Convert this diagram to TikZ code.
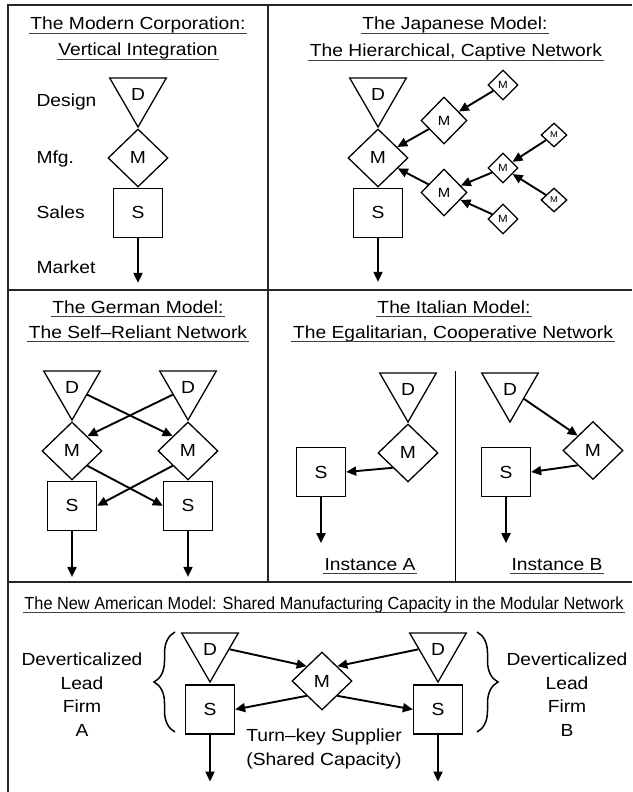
\documentclass[tikz,border=0pt]{standalone}
\usepackage{graphicx}
\usepackage{fontspec}
\setmainfont{Liberation Sans}[FakeStretch=1.1]
\usetikzlibrary{positioning, shapes.geometric, arrows.meta, decorations.pathreplacing}

\begin{document}
\begin{tikzpicture}[
        x=1pt, y=-1pt,
        font=\fontsize{17.5}{23.5}\selectfont,
        shp/.style={draw=black, line width=1.3pt, inner sep=0pt},
        dsgn/.style={shp, regular polygon, regular polygon sides=3, shape border rotate=180, minimum size=65.4pt},
        mfg/.style={shp, diamond, minimum width=60pt, minimum height=58pt},
        sales/.style={shp, rectangle, minimum size=49pt},
        tier1/.style={minimum width=46pt, minimum height=47pt, font=\fontsize{13.5}{16}\selectfont},
        tier2/.style={minimum width=30pt, minimum height=30pt, font=\fontsize{10.5}{12}\selectfont},
        tier3/.style={minimum width=26pt, minimum height=24pt, font=\fontsize{8.5}{10}\selectfont},
        conn/.style={-{Triangle[length=10pt, width=9pt]}, line width=1.9pt},
        ttl/.style={anchor=base, inner xsep=1.5pt, inner ysep=0pt, text depth=3.5pt,
            append after command={(\tikzlastnode.south west) edge[draw, line width=0.8pt, black!75] (\tikzlastnode.south east)}},
        lbl/.style={align=center, inner sep=0pt, anchor=north},
        rule/.style={line width=1.6pt, black!85},
        brc/.style={decorate, decoration={brace, amplitude=21pt}, line width=1.5pt}
    ]
        \useasboundingbox (0,0) rectangle (632,792);

        % frame
        \draw [rule] (8,792) -- (8,5) -- (632,5);
        \draw [rule] (8,290) -- (632,290);
        \draw [rule] (8,582) -- (632,582);
        \draw [rule] (268,5) -- (268,582);
        \draw [line width=1pt] (455,371) -- (455,582);

        % modern corporation
        \node (modT1) [ttl] at (138,30) {The Modern Corporation:};
        \node (modT2) [ttl] at (138,56) {Vertical Integration};
        \node (modD) [dsgn] at (138,94.3) {D};
        \node (modM) [mfg, below=0pt of modD] {M};
        \node (modS) [sales, below=0pt of modM] {S};
        \coordinate [below=45pt of modS] (modK);
        \node (lDes) [anchor=base west] at (33,106) {Design};
        \node (lMfg) [anchor=base west] at (33,163) {Mfg.};
        \node (lSal) [anchor=base west] at (33,218) {Sales};
        \node (lMkt) [anchor=base west] at (33,273) {Market};
        \draw [conn] (modS) -- (modK);

        % japanese model
        \node (jpT1) [ttl] at (455,30) {The Japanese Model:};
        \node (jpT2) [ttl] at (456,56.5) {The Hierarchical, Captive Network};
        \node (jpD) [dsgn] at (378,94.3) {D};
        \node (jpM) [mfg, below=0pt of jpD] {M};
        \node (jpS) [sales, below=0pt of jpM] {S};
        \coordinate [below=44pt of jpS] (jpK);
        \node (jpMa) [mfg, tier1] at (444,120.5) {M};
        \node (jpMb) [mfg, tier1] at (444,192.5) {M};
        \node (jpMc) [mfg, tier2] at (503,85) {M};
        \node (jpMd) [mfg, tier2] at (503,168) {M};
        \node (jpMe) [mfg, tier2] at (503,219) {M};
        \node (jpMf) [mfg, tier3] at (554,135) {M};
        \node (jpMg) [mfg, tier3] at (554,200) {M};
        \draw [conn] (jpS) -- (jpK);
        \draw [conn] (jpMa) -- (jpM);
        \draw [conn] (jpMb) -- (jpM);
        \draw [conn] (jpMc) -- (jpMa);
        \draw [conn] (jpMd) -- (jpMb);
        \draw [conn] (jpMe) -- (jpMb);
        \draw [conn] (jpMf) -- (jpMd);
        \draw [conn] (jpMg) -- (jpMd);

        % german model
        \node (deT1) [ttl] at (138,313) {The German Model:};
        \node (deT2) [ttl] at (138,338) {The Self–Reliant Network};
        \node (deD1) [dsgn] at (72,387.3) {D};
        \node (deM1) [mfg, below=0pt of deD1] {M};
        \node (deS1) [sales, below=0pt of deM1] {S};
        \coordinate [below=46pt of deS1] (deK1);
        \node (deD2) [dsgn] at (188,387.3) {D};
        \node (deM2) [mfg, below=0pt of deD2] {M};
        \node (deS2) [sales, below=0pt of deM2] {S};
        \coordinate [below=46pt of deS2] (deK2);
        \draw [conn] (deD1) -- (deM2.north west);
        \draw [conn] (deD2) -- (deM1.north east);
        \draw [conn] (deM1.south east) -- (deS2.west);
        \draw [conn] (deM2.south west) -- (deS1.east);
        \draw [conn] (deS1) -- (deK1);
        \draw [conn] (deS2) -- (deK2);

        % italian model
        \node (itT1) [ttl] at (454,313) {The Italian Model:};
        \node (itT2) [ttl] at (453,338) {The Egalitarian, Cooperative Network};
        \node (itD1) [dsgn] at (408,389.3) {D};
        \node (itM1) [mfg, below=0pt of itD1] {M};
        \node (itS1) [sales] at (321,472) {S};
        \coordinate [below=46pt of itS1] (itK1);
        \node (itD2) [dsgn] at (510,389.3) {D};
        \node (itM2) [mfg] at (593,450.5) {M};
        \node (itS2) [sales] at (506,472) {S};
        \coordinate [below=46pt of itS2] (itK2);
        \draw [conn] (itM1.south west) -- (itS1.east);
        \draw [conn] (itD2) -- (itM2.north west);
        \draw [conn] (itM2.south west) -- (itS2.east);
        \draw [conn] (itS1) -- (itK1);
        \draw [conn] (itS2) -- (itK2);
        \node (insA) [ttl] at (370,570) {Instance A};
        \node (insB) [ttl] at (557,570) {Instance B};

        % new american model
        \node (usT) [ttl] at (324,609) {\resizebox{599pt}{\height}{The New American Model: Shared Manufacturing Capacity in the Modular Network}};
        \node (usD1) [dsgn] at (210,649.3) {D};
        \node (usS1) [sales, below=1pt of usD1] {S};
        \coordinate [below=47pt of usS1] (usK1);
        \node (usD2) [dsgn] at (438,649.3) {D};
        \node (usS2) [sales, below=1pt of usD2] {S};
        \coordinate [below=47pt of usS2] (usK2);
        \node (usM) [mfg] at (322,681) {M};
        \draw [conn] (usD1.east) -- (usM.north west);
        \draw [conn] (usD2.west) -- (usM.north east);
        \draw [conn] (usM.south west) -- (usS1.east);
        \draw [conn] (usM.south east) -- (usS2.west);
        \draw [conn] (usS1) -- (usK1);
        \draw [conn] (usS2) -- (usK2);
        \draw [brc] (175,732) -- (175,632);
        \draw [brc] (477,632) -- (477,732);
        \node (firmA) [lbl] at (82,653) {Deverticalized\\Lead\\Firm\\A};
        \node (firmB) [lbl] at (567,653) {Deverticalized\\Lead\\Firm\\B};
        \node (supp) [lbl] at (324,729) {Turn–key Supplier\\(Shared Capacity)};
    \end{tikzpicture}
\end{document}
